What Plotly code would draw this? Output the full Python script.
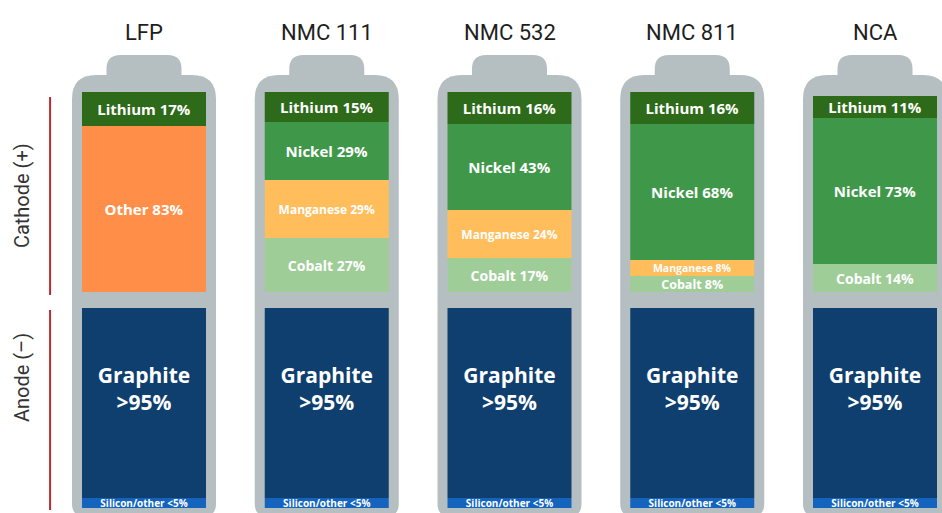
import plotly.graph_objects as go

# Data (percent of each electrode)
batteries = ["LFP", "NMC 111", "NMC 532", "NMC 811", "NCA"]
lithium = [17, 15, 16, 16, 11]
nickel = [0, 29, 43, 68, 73]
manganese = [0, 29, 24, 8, 0]
cobalt = [0, 27, 17, 8, 14]
other = [83, 0, 0, 0, 0]
graphite = [95, 95, 95, 95, 95]
silicon = [5, 5, 5, 5, 5]

# cathode segments drawn bottom-up (lithium ends on top)
cathode = [
    ("Other", other, "#ff8f48"),
    ("Cobalt", cobalt, "#9fcd98"),
    ("Manganese", manganese, "#ffbd5c"),
    ("Nickel", nickel, "#3f984a"),
    ("Lithium", lithium, "#2d6a19"),
]

CATHODE_BASE = 108
PX_X = 1 / 182.75   # data units per pixel, x
PX_Y = 0.5          # data units per pixel, y
BODY = "#b5bec0"
BAR_W = 124 * PX_X
FONT = "Open Sans"

x = list(range(len(batteries)))


def rrect(x0, x1, y0, y1, r_top, r_bot):
    """Rounded rectangle path in data coords, radii given in pixels."""
    tx, ty = r_top * PX_X, r_top * PX_Y
    bx, by = r_bot * PX_X, r_bot * PX_Y
    return (
        f"M{x0 + bx},{y0} L{x1 - bx},{y0} Q{x1},{y0} {x1},{y0 + by} "
        f"L{x1},{y1 - ty} Q{x1},{y1} {x1 - tx},{y1} "
        f"L{x0 + tx},{y1} Q{x0},{y1} {x0},{y1 - ty} "
        f"L{x0},{y0 + by} Q{x0},{y0} {x0 + bx},{y0} Z"
    )


fig = go.Figure()

shapes = []
for i in x:
    # battery body + terminal nub
    shapes.append(dict(type="path", layer="below", line_width=0, fillcolor=BODY,
                       path=rrect(i - 72 * PX_X, i + 72 * PX_X, -4, 216.5, 24, 12)))
    shapes.append(dict(type="path", layer="below", line_width=0, fillcolor=BODY,
                       path=rrect(i - 37.5 * PX_X, i + 37.5 * PX_X, 205, 226.5, 14, 0)))

# red brackets on the left
for y0, y1 in [(106.5, 205.5), (-1, 99)]:
    shapes.append(dict(type="line", x0=-0.514, x1=-0.514, y0=y0, y1=y1,
                       line=dict(color="#c0282d", width=2)))

# anode
fig.add_trace(go.Bar(
    x=x, y=silicon, base=[0] * len(x), width=BAR_W,
    marker_color="#1464be", marker_line_width=0,
    text=[f"<b>Silicon/other <{v}%</b>" for v in silicon],
    textposition="inside", insidetextanchor="middle", textangle=0,
    constraintext="none", textfont=dict(color="white", size=10, family=FONT),
    hoverinfo="skip",
))
fig.add_trace(go.Bar(
    x=x, y=graphite, base=silicon, width=BAR_W,
    marker_color="#0f3f6f", marker_line_width=0,
    hoverinfo="skip",
))
# graphite label sits a little above the middle of its block
fig.add_trace(go.Scatter(
    x=x, y=[s + g * 0.56 for s, g in zip(silicon, graphite)],
    mode="text", text=[f"<b>Graphite<br>>{v}%</b>" for v in graphite],
    textposition="middle center",
    textfont=dict(color="white", size=21, family=FONT),
    hoverinfo="skip",
))

# cathode stack
sizes = {"Manganese": 12, "Cobalt": 14}
base = [CATHODE_BASE] * len(x)
for name, vals, color in cathode:
    size = sizes.get(name, 15)
    fig.add_trace(go.Bar(
        x=x, y=vals, base=list(base), width=BAR_W,
        marker_color=color, marker_line_width=0,
        text=[f"<b>{name} {v}%</b>" if v else "" for v in vals],
        textposition="inside", insidetextanchor="middle", textangle=0,
        constraintext="none",
        textfont=dict(color="white", family=FONT,
                      size=[size - 1.5 if v < 10 else size for v in vals]),
        hoverinfo="skip",
    ))
    base = [b + v for b, v in zip(base, vals)]

annotations = [
    dict(x=i, y=238, text=name, showarrow=False, xanchor="center", yanchor="middle",
         font=dict(size=22, color="#1e1e1e", family="Roboto"))
    for i, name in zip(x, batteries)
]
annotations += [
    dict(x=-0.667, y=156, text="Cathode (+)", textangle=-90, showarrow=False,
         font=dict(size=20, color="#333333", family="Roboto")),
    dict(x=-0.667, y=65, text="Anode (\u2013)", textangle=-90, showarrow=False,
         font=dict(size=20, color="#333333", family="Roboto")),
]

fig.update_layout(
    width=942, height=513,
    margin=dict(l=0, r=0, t=0, b=0),
    barmode="overlay",
    showlegend=False,
    plot_bgcolor="white", paper_bgcolor="white",
    xaxis=dict(range=[-144 * PX_X, 798 * PX_X], visible=False, fixedrange=True),
    yaxis=dict(range=[-2.5, 254], visible=False, fixedrange=True),
    shapes=shapes,
    annotations=annotations,
)

# drop the default page margin so the figure fills the window
fig.write_html("out.html", config={"displayModeBar": False},
               post_script="document.body.style.margin='0';")
